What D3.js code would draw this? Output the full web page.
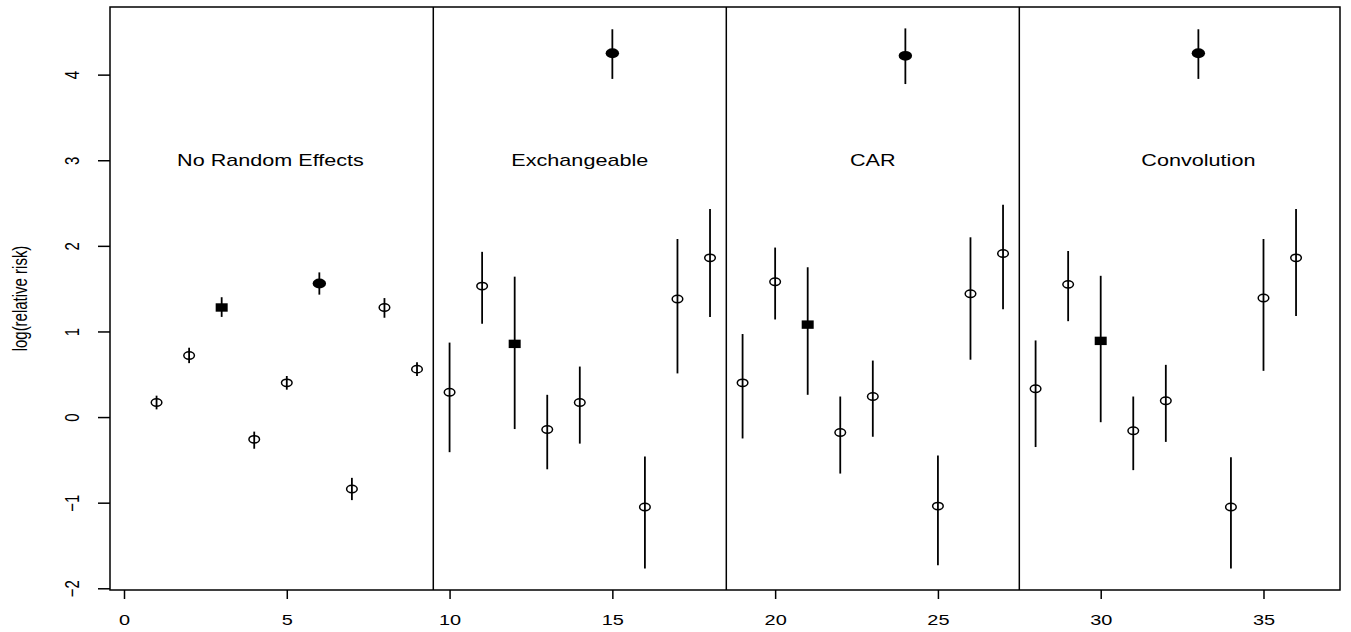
<!DOCTYPE html>
<html>
<head>
<meta charset="utf-8">
<script src="https://cdn.jsdelivr.net/npm/d3@7"></script>
<style>
  body { margin: 0; background: #fff; }
  text { font-family: "Liberation Sans", Arial, sans-serif; fill: #000; }
</style>
</head>
<body>
<svg width="1351" height="632"></svg>
<script>
// area index 1..36, four models of 9 areas each
const area = d3.range(1, 37);
const estimate = [
  0.17, 0.72, 1.28, -0.26, 0.40, 1.56, -0.84, 1.28, 0.56,
  0.29, 1.53, 0.855, -0.145, 0.17, 4.25, -1.05, 1.38, 1.86,
  0.40, 1.58, 1.08, -0.18, 0.24, 4.22, -1.04, 1.44, 1.91,
  0.33, 1.55, 0.89, -0.16, 0.19, 4.25, -1.05, 1.39, 1.86
];
const lower = [
  0.09, 0.63, 1.17, -0.37, 0.32, 1.43, -0.97, 1.16, 0.48,
  -0.41, 1.09, -0.14, -0.61, -0.31, 3.95, -1.77, 0.51, 1.17,
  -0.25, 1.14, 0.26, -0.66, -0.23, 3.89, -1.73, 0.67, 1.26,
  -0.35, 1.12, -0.06, -0.62, -0.29, 3.95, -1.77, 0.54, 1.18
];
const upper = [
  0.25, 0.81, 1.40, -0.17, 0.48, 1.69, -0.71, 1.39, 0.64,
  0.87, 1.93, 1.64, 0.26, 0.59, 4.53, -0.46, 2.08, 2.43,
  0.97, 1.98, 1.75, 0.24, 0.66, 4.54, -0.45, 2.10, 2.48,
  0.895, 1.94, 1.65, 0.24, 0.61, 4.53, -0.47, 2.08, 2.43
];
// symbol: "o" open circle, "sq" filled square, "dot" filled circle
const symbol = d3.range(36).map(i => (i % 9 === 2 ? "sq" : i % 9 === 5 ? "dot" : "o"));

const panelNames = ["No Random Effects", "Exchangeable", "CAR", "Convolution"];
const panelLabelX = [4.5, 14, 23, 33];
const panelLabelY = 3;
const dividers = [9.5, 18.5, 27.5];
const xTicks = [0, 5, 10, 15, 20, 25, 30, 35];
const yTicks = [-2, -1, 0, 1, 2, 3, 4];
const yTitle = "log(relative risk)";

const svg = d3.select("svg");
const pLeft = 110, pRight = 1340, pTop = 7, pBottom = 590;
const stretch = 1.33;

const x = d3.scaleLinear().domain([-0.43, 37.35]).range([pLeft, pRight]);
const y = d3.scaleLinear().domain([-2.02, 4.79]).range([pBottom, pTop]);

// box
svg.append("rect")
  .attr("x", pLeft).attr("y", pTop)
  .attr("width", pRight - pLeft).attr("height", pBottom - pTop)
  .attr("fill", "none").attr("stroke", "#000").attr("stroke-width", 1.5);

// panel dividers
svg.selectAll(".divider")
  .data(dividers)
  .enter().append("line")
  .attr("x1", d => x(d)).attr("x2", d => x(d))
  .attr("y1", pTop).attr("y2", pBottom)
  .attr("stroke", "#000").attr("stroke-width", 1.5);

// x axis
const xAxis = svg.append("g")
  .attr("transform", `translate(0, ${pBottom})`)
  .call(d3.axisBottom(x).tickValues(xTicks).tickSize(9).tickFormat(d3.format("d")));
xAxis.select(".domain").remove();
xAxis.selectAll(".tick line").attr("stroke", "#000").attr("stroke-width", 1.5);
xAxis.selectAll(".tick text")
  .attr("y", 0).attr("dy", 0)
  .attr("transform", `translate(0, 34.5) scale(${stretch}, 1)`)
  .style("font-size", "15px");

// y axis
const yAxis = svg.append("g")
  .attr("transform", `translate(${pLeft}, 0)`)
  .call(d3.axisLeft(y).tickValues(yTicks).tickSize(12).tickFormat(d3.format("d")));
yAxis.select(".domain").remove();
yAxis.selectAll(".tick line").attr("stroke", "#000").attr("stroke-width", 1.5);
yAxis.selectAll(".tick text")
  .attr("x", 0).attr("dy", 0)
  .attr("text-anchor", "middle")
  .attr("transform", `translate(${79 - pLeft}, 0) scale(${stretch}, 1) rotate(-90)`)
  .style("font-size", "15px");

// y title
svg.append("text")
  .attr("text-anchor", "middle")
  .attr("transform", `translate(27, ${(pTop + pBottom) / 2}) scale(1.35, 1) rotate(-90)`)
  .style("font-size", "15px")
  .text(yTitle);

// panel labels
svg.selectAll(".panel-label")
  .data(panelNames)
  .enter().append("text")
  .attr("class", "panel-label")
  .attr("text-anchor", "middle")
  .attr("dy", "0.36em")
  .attr("transform", (d, i) => `translate(${x(panelLabelX[i])}, ${y(panelLabelY)}) scale(1.35, 1)`)
  .style("font-size", "16px")
  .text(d => d);

// intervals
const rows = area.map((a, i) => ({ a, est: estimate[i], lo: lower[i], hi: upper[i], s: symbol[i] }));

svg.selectAll(".ci")
  .data(rows)
  .enter().append("line")
  .attr("x1", d => x(d.a)).attr("x2", d => x(d.a))
  .attr("y1", d => y(d.lo)).attr("y2", d => y(d.hi))
  .attr("stroke", "#000").attr("stroke-width", 1.8);

// points
svg.selectAll(".open")
  .data(rows.filter(d => d.s === "o"))
  .enter().append("ellipse")
  .attr("cx", d => x(d.a)).attr("cy", d => y(d.est))
  .attr("rx", 5.3).attr("ry", 3.7)
  .attr("fill", "none").attr("stroke", "#000").attr("stroke-width", 1.5);

svg.selectAll(".dot")
  .data(rows.filter(d => d.s === "dot"))
  .enter().append("ellipse")
  .attr("cx", d => x(d.a)).attr("cy", d => y(d.est))
  .attr("rx", 6.7).attr("ry", 4.9)
  .attr("fill", "#000");

svg.selectAll(".sq")
  .data(rows.filter(d => d.s === "sq"))
  .enter().append("rect")
  .attr("x", d => x(d.a) - 6).attr("y", d => y(d.est) - 4.2)
  .attr("width", 12).attr("height", 8.4)
  .attr("fill", "#000");
</script>
</body>
</html>
